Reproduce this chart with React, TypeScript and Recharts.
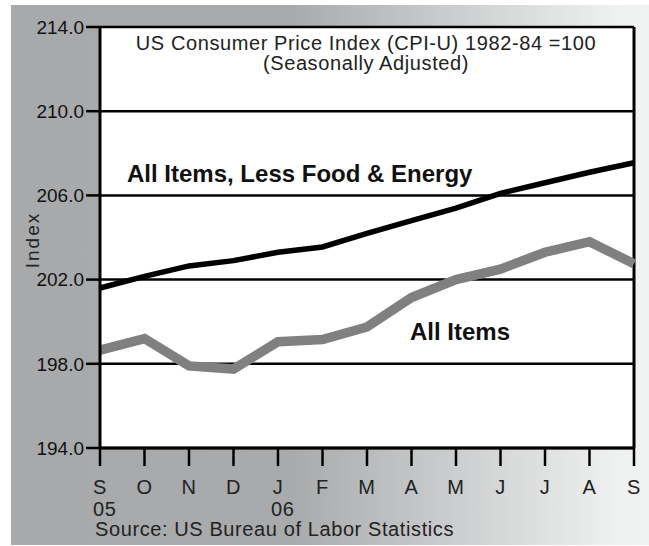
import { LineChart, Line, XAxis, YAxis, CartesianGrid, ReferenceLine } from "recharts";

const months = ["S", "O", "N", "D", "J", "F", "M", "A", "M", "J", "J", "A", "S"];
const years = ["05", "", "", "", "06", "", "", "", "", "", "", "", ""];
const coreValues = [201.6, 202.15, 202.65, 202.9, 203.3, 203.55, 204.2, 204.8, 205.4, 206.1, 206.6, 207.1, 207.55];
const allItemsValues = [198.65, 199.2, 197.9, 197.75, 199.05, 199.15, 199.75, 201.15, 202.0, 202.5, 203.3, 203.8, 202.75];
const yTicks = [194, 198, 202, 206, 210, 214];

const data = months.map((m, i) => ({ key: `${m}${i}`, core: coreValues[i], all: allItemsValues[i] }));

const FONT = "'Liberation Sans', Arial, sans-serif";

function MonthTick(props: any) {
  const { x, y, payload } = props;
  const i = payload.index;
  return (
    <g>
      <text x={x} y={y + 26} textAnchor="middle" fontSize={20} fontFamily={FONT} letterSpacing={0.6} fill="#222">
        {months[i]}
      </text>
      {years[i] ? (
        <text x={x - 7} y={y + 48} textAnchor="start" fontSize={20} fontFamily={FONT} letterSpacing={0.6} fill="#222">
          {years[i]}
        </text>
      ) : null}
    </g>
  );
}

export default function App() {
  return (
    <div style={{ position: "absolute", left: 0, top: 0, width: 649, height: 546 }}>
      <div
        style={{
          position: "absolute",
          left: 11,
          top: 5,
          width: 638,
          height: 540,
          background: "linear-gradient(to right, #a8a9ab 0%, #a9aaac 44%, #eff0f0 95%, #f1f2f2 100%)",
        }}
      />
      <div style={{ position: "absolute", left: 0, top: 0 }}>
        <LineChart width={649} height={546} data={data} margin={{ top: 27, right: 15, bottom: 0, left: 0 }}>
          <CartesianGrid vertical={false} stroke="#000" strokeWidth={2.5} fill="#fff" fillOpacity={1} />
          <XAxis
            dataKey="key"
            height={98}
            interval={0}
            axisLine={{ stroke: "#000", strokeWidth: 3 }}
            tickLine={{ stroke: "#000", strokeWidth: 2.5 }}
            tickSize={18}
            tickMargin={2}
            tick={<MonthTick />}
          />
          <YAxis
            width={100}
            domain={[194, 214]}
            ticks={yTicks}
            interval={0}
            tickFormatter={(v: number) => v.toFixed(1)}
            axisLine={{ stroke: "#000", strokeWidth: 3 }}
            tickLine={{ stroke: "#000", strokeWidth: 2.5 }}
            tickSize={14}
            tickMargin={2}
            tick={{ fill: "#111", fontSize: 19, fontFamily: "'Liberation Sans Narrow', 'Liberation Sans', sans-serif" }}
          />
          <ReferenceLine x={data[data.length - 1].key} stroke="#000" strokeWidth={3} />
          <Line dataKey="all" stroke="#808080" strokeWidth={9.5} dot={false} isAnimationActive={false} />
          <Line dataKey="core" stroke="#000" strokeWidth={5.5} dot={false} isAnimationActive={false} />
        </LineChart>
      </div>
      <svg width={649} height={546} style={{ position: "absolute", left: 0, top: 0, pointerEvents: "none" }}>
        <g fontFamily={FONT} fill="#222" fontSize={20} letterSpacing={0.6}>
          <text x={366} y={50} textAnchor="middle">US Consumer Price Index (CPI-U) 1982-84 =100</text>
          <text x={366} y={70} textAnchor="middle">(Seasonally Adjusted)</text>
          <text x={95} y={536}>Source: US Bureau of Labor Statistics</text>
          <text x={32} y={240} textAnchor="middle" dominantBaseline="central" fontSize={19} letterSpacing={2} transform="rotate(-90 32 240)">
            Index
          </text>
        </g>
        <g fontFamily={FONT} fill="#111" fontSize={24} fontWeight="bold">
          <text x={127} y={182}>All Items, Less Food &amp; Energy</text>
          <text x={410} y={340}>All Items</text>
        </g>
      </svg>
    </div>
  );
}
